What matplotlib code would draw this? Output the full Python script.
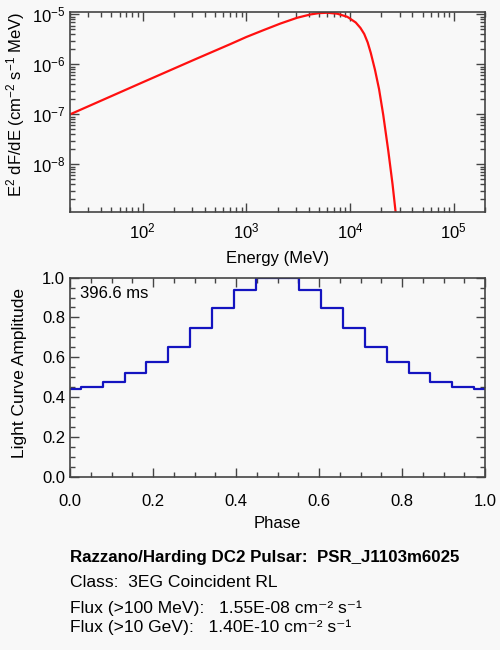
import numpy as np
import matplotlib
matplotlib.use('Agg')
from matplotlib import pyplot as plt
from matplotlib.ticker import LogLocator, MultipleLocator, NullFormatter, FormatStrFormatter

plt.rcParams['font.family'] = ['Liberation Sans', 'DejaVu Sans']
plt.rcParams['mathtext.fontset'] = 'custom'
plt.rcParams['mathtext.rm'] = 'Liberation Sans'
plt.rcParams['mathtext.it'] = 'Liberation Sans:italic'
plt.rcParams['mathtext.bf'] = 'Liberation Sans:bold'

# spectrum (MeV, E^2 dF/dE)
energy = [20, 100, 316, 700, 1000, 1470, 2130, 3090, 4170, 5000, 6000, 7530,
          9440, 11350, 12600, 13700, 14800, 15850, 17400, 19050, 20900,
          23400, 25700, 27500]
sed = [1.0e-7, 4.37e-7, 1.245e-6, 2.54e-6, 3.53e-6, 4.86e-6, 6.56e-6, 8.57e-6,
       1.0e-5, 1.06e-5, 1.08e-5, 1.035e-5, 8.93e-6, 6.9e-6, 5.37e-6, 4.07e-6,
       2.75e-6, 1.7e-6, 7.8e-7, 3.2e-7, 9.8e-8, 1.84e-8, 4.0e-9, 1.12e-9]

# light curve, 20 bins centred at k/19
phase = [k / 19 for k in range(20)]
amplitude = [0.44, 0.453, 0.478, 0.52, 0.577, 0.652, 0.745, 0.845, 0.937, 1.0,
             1.0, 0.937, 0.845, 0.745, 0.652, 0.577, 0.52, 0.478, 0.453, 0.44]

period_label = "396.6 ms"
info_lines = [
    "Razzano/Harding DC2 Pulsar:  PSR_J1103m6025",
    "Class:  3EG Coincident RL",
    "Flux (>100 MeV):   1.55E-08 cm\u207b\u00b2 s\u207b\u00b9",
    "Flux (>10 GeV):   1.40E-10 cm\u207b\u00b2 s\u207b\u00b9",
]

bg = '#f8f8f8'
axcol = '#444444'

fig = plt.figure(figsize=(5, 6.5), dpi=100, facecolor=bg)


def style_axes(ax):
    ax.set_facecolor(bg)
    for s in ax.spines.values():
        s.set_color(axcol)
        s.set_linewidth(1.2)
    ax.tick_params(which='both', direction='in', top=True, right=True,
                   color=axcol, labelsize=12, labelcolor='black')
    ax.tick_params(which='major', length=6.5, width=1)
    ax.tick_params(which='minor', length=3.6, width=1)


# top panel: spectrum
ax1 = fig.add_axes([0.14, 0.674, 0.83, 0.307])
style_axes(ax1)
ax1.plot(energy, sed, color='#ff1010', lw=1.6)
ax1.set_xscale('log')
ax1.set_yscale('log')
ax1.set_xlim(20, 2e5)
ax1.set_ylim(1.12e-9, 1.1e-5)
ax1.xaxis.set_minor_locator(LogLocator(base=10, subs=np.arange(2, 10)))
ax1.yaxis.set_minor_locator(LogLocator(base=10, subs=np.arange(2, 10)))
ax1.xaxis.set_minor_formatter(NullFormatter())
ax1.yaxis.set_minor_formatter(NullFormatter())
ax1.tick_params(axis='x', pad=7)
ax1.set_xlabel('Energy (MeV)', fontsize=12, labelpad=7)
ax1.set_ylabel('E$^2$ dF/dE (cm$^{-2}$ s$^{-1}$ MeV)', fontsize=12)
ax1.yaxis.set_label_coords(-0.104, 0.54)

# bottom panel: light curve
ax2 = fig.add_axes([0.14, 0.266, 0.83, 0.307])
style_axes(ax2)
ax2.step(phase, amplitude, where='mid', color='#1414c0', lw=1.6)
ax2.set_xlim(0, 1)
ax2.set_ylim(0, 1)
ax2.xaxis.set_major_locator(MultipleLocator(0.2))
ax2.xaxis.set_minor_locator(MultipleLocator(0.05))
ax2.yaxis.set_major_locator(MultipleLocator(0.2))
ax2.yaxis.set_minor_locator(MultipleLocator(0.05))
ax2.xaxis.set_major_formatter(FormatStrFormatter('%.1f'))
ax2.yaxis.set_major_formatter(FormatStrFormatter('%.1f'))
ax2.tick_params(axis='x', pad=12)
ax2.set_xlabel('Phase', fontsize=12, labelpad=5)
ax2.set_ylabel('Light Curve Amplitude', fontsize=12.5)
ax2.yaxis.set_label_coords(-0.103, 0.52)
ax2.text(0.024, 0.92, period_label, transform=ax2.transAxes,
         fontsize=12, va='center', ha='left')

# info block under the plots
baselines = [0.1349, 0.0965, 0.0565, 0.0282]
for i, (line, y) in enumerate(zip(info_lines, baselines)):
    fig.text(0.14, y, line, fontsize=12.2 if i == 0 else 12.6,
             fontweight='bold' if i == 0 else 'normal', va='baseline', ha='left')

fig.savefig('out.png', dpi=100, facecolor=bg)
